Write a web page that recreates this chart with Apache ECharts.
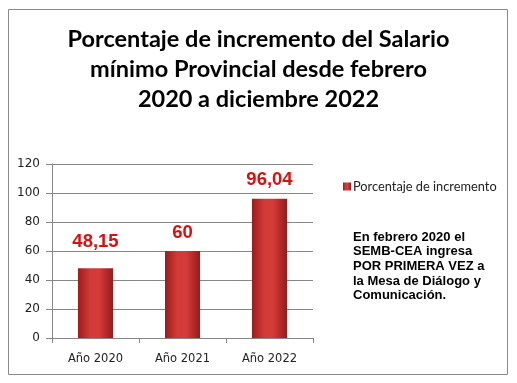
<!DOCTYPE html>
<html>
<head>
<meta charset="utf-8">
<script src="https://cdn.jsdelivr.net/npm/echarts@6/dist/echarts.min.js"></script>
<style>
html,body{margin:0;padding:0;background:#fff;}
#c{width:517px;height:383px;}
</style>
</head>
<body>
<div id="c"></div>
<script>
const categories = ['Año 2020', 'Año 2021', 'Año 2022'];
const values = [48.15, 60, 96.04];
const seriesName = 'Porcentaje de incremento';
const titleText = 'Porcentaje de incremento del Salario\nmínimo Provincial desde febrero\n2020 a diciembre 2022';
const noteText = 'En febrero 2020 el\nSEMB-CEA ingresa\nPOR PRIMERA VEZ a\nla Mesa de Diálogo y\nComunicación.';
const yTicks = [0, 20, 40, 60, 80, 100, 120];

const chart = echarts.init(document.getElementById('c'), null, {renderer: 'canvas'});
const barGrad = new echarts.graphic.LinearGradient(0, 0, 1, 0, [
  {offset: 0, color: '#9c1c1c'},
  {offset: 0.35, color: '#d23a37'},
  {offset: 0.6, color: '#d43c39'},
  {offset: 1, color: '#981a1a'}
]);
chart.setOption({
  animation: false,
  backgroundColor: '#fff',
  title: {
    text: titleText,
    left: 'center',
    top: 19,
    textStyle: {fontFamily: 'Lato', fontWeight: 'bold', fontSize: 23.5, lineHeight: 30, color: '#000'}
  },
  legend: {
    data: [seriesName],
    left: 338,
    top: 175,
    itemWidth: 8,
    itemHeight: 8,
    itemGap: 4,
    icon: 'rect',
    textStyle: {fontFamily: 'Lato', fontSize: 12.8, color: '#222', padding: [0, 0, 0, -3]}
  },
  grid: {left: 52, top: 164, width: 261, height: 174, containLabel: false},
  xAxis: {
    type: 'category',
    data: categories,
    axisLine: {lineStyle: {color: '#868686'}},
    axisTick: {show: true, length: 5, lineStyle: {color: '#868686'}},
    axisLabel: {fontFamily: 'DejaVu Sans', fontSize: 11.5, color: '#222', margin: 15}
  },
  yAxis: {
    type: 'value',
    min: yTicks[0],
    max: yTicks[yTicks.length - 1],
    interval: 20,
    axisLine: {show: true, lineStyle: {color: '#868686'}},
    axisTick: {show: true, length: 6, inside: false, lineStyle: {color: '#868686'}},
    splitLine: {lineStyle: {color: '#868686'}},
    axisLabel: {fontFamily: 'DejaVu Sans', fontSize: 12, color: '#222', margin: 12}
  },
  series: [{
    name: seriesName,
    type: 'bar',
    data: values.map((v, i) => ({
      value: v,
      label: {distance: i === 0 ? 17 : 9}
    })),
    barWidth: 35,
    itemStyle: {color: barGrad},
    label: {
      show: true,
      position: 'top',
      fontFamily: 'Liberation Sans',
      fontWeight: 'bold',
      fontSize: 18.5,
      color: '#d81010',
      formatter: p => String(p.value).replace('.', ',')
    }
  }],
  graphic: [
    {
      type: 'rect',
      shape: {x: 8.5, y: 9.5, width: 499, height: 365},
      style: {fill: 'none', stroke: '#8a8a8a', lineWidth: 1},
      silent: true
    },
    {
      type: 'text',
      left: 353,
      top: 230,
      style: {
        text: noteText,
        fontFamily: 'Liberation Sans',
        fontWeight: 'bold',
        fontSize: 13,
        lineHeight: 14.6,
        fill: '#000'
      }
    }
  ]
});
</script>
</body>
</html>
